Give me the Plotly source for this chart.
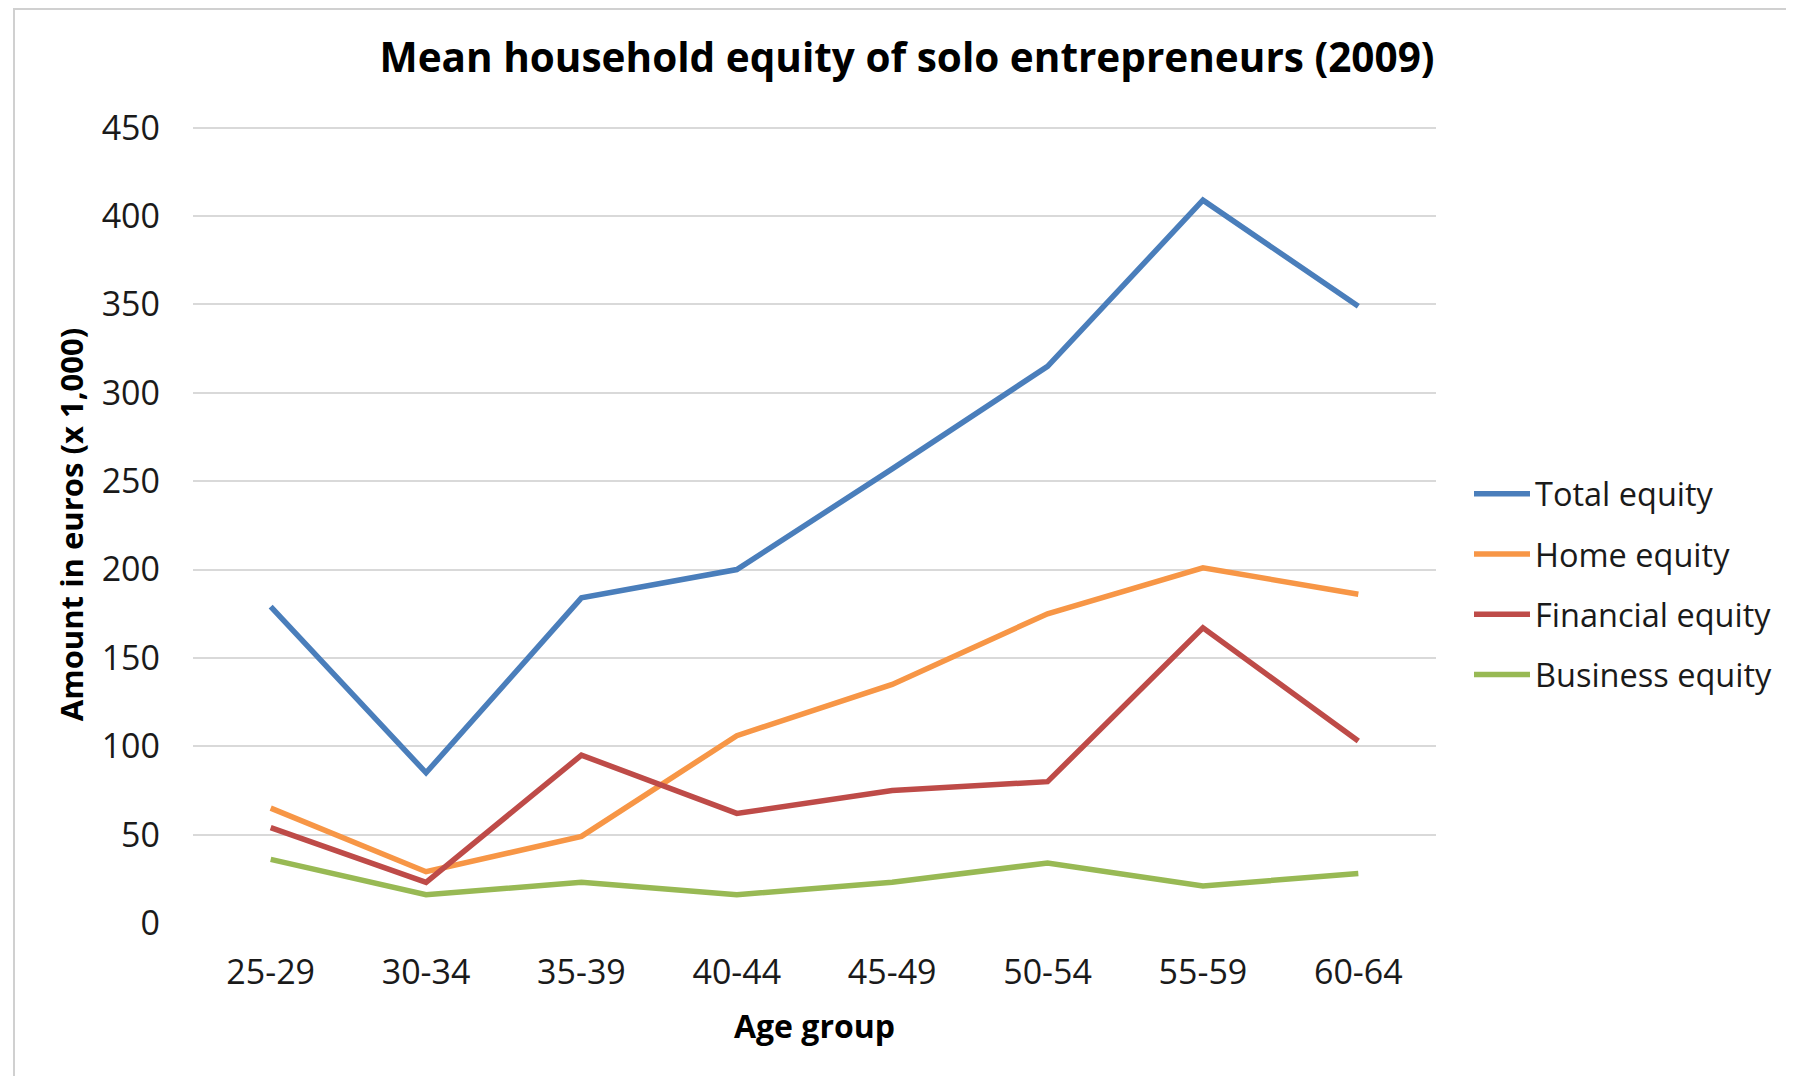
import plotly.graph_objects as go

age_groups = ["25-29", "30-34", "35-39", "40-44", "45-49", "50-54", "55-59", "60-64"]
total_equity = [179, 85, 184, 200, 257, 315, 409, 349]
home_equity = [65, 29, 49, 106, 135, 175, 201, 186]
financial_equity = [54, 23, 95, 62, 75, 80, 167, 103]
business_equity = [36, 16, 23, 16, 23, 34, 21, 28]

series_names = ["Total equity", "Home equity", "Financial equity", "Business equity"]
series_values = [total_equity, home_equity, financial_equity, business_equity]
colors = ["#4A7EBB", "#F79646", "#BE4B48", "#98B954"]

FONT = "Open Sans"
W, H = 1794, 1076
L, R, T, B = 185, 366, 118, 161
pw, ph = W - L - R, H - T - B

fig = go.Figure()
for name, vals, col in zip(series_names, series_values, colors):
    fig.add_trace(go.Scatter(
        x=age_groups, y=vals, name=name, mode="lines",
        line=dict(color=col, width=5.5), legendgroup=name,
    ))

fig.update_layout(
    width=W, height=H,
    margin=dict(l=L, r=R, t=T, b=B, autoexpand=False),
    paper_bgcolor="white", plot_bgcolor="white",
    font=dict(family=FONT, size=34, color="#1a1a1a"),
    title=dict(
        text="<b>Mean household equity of solo entrepreneurs (2009)</b>",
        x=899 / W, xanchor="center", y=1 - 50 / H, yanchor="middle",
        font=dict(family=FONT, size=40.5, color="black"),
    ),
    xaxis=dict(
        type="category", range=[-0.5, 7.5], showgrid=False, zeroline=False,
        showline=False, ticks="", ticklabelstandoff=26,
        tickfont=dict(size=34, color="#1a1a1a"),
        title=dict(text="<b>Age group</b>", font=dict(size=32, color="black"), standoff=22),
        automargin=False,
    ),
    yaxis=dict(
        range=[0, 451], tickvals=list(range(0, 451, 50)),
        showgrid=True, gridcolor="#D9D9D9", gridwidth=1.5, zeroline=False,
        showline=False, ticks="", ticklabelstandoff=32,
        tickfont=dict(size=34, color="#1a1a1a"),
        title=dict(text="<b>Amount in euros (x 1,000)</b>", font=dict(size=31, color="black"), standoff=8),
        automargin=False,
    ),
    legend=dict(
        x=(1461 - L) / pw, xanchor="left", y=(H - B - 576) / ph, yanchor="middle",
        font=dict(family=FONT, size=32.5, color="#1a1a1a"),
        tracegroupgap=15, itemwidth=56, bgcolor="rgba(0,0,0,0)",
    ),
    showlegend=True,
)

fig.add_shape(
    type="rect", xref="paper", yref="paper",
    x0=(6 - L) / pw, x1=2.0, y0=-1.0, y1=(H - B - 1) / ph,
    line=dict(color="#D0D0D0", width=2), fillcolor="rgba(0,0,0,0)", layer="below",
)

fig.write_html("out.html")
